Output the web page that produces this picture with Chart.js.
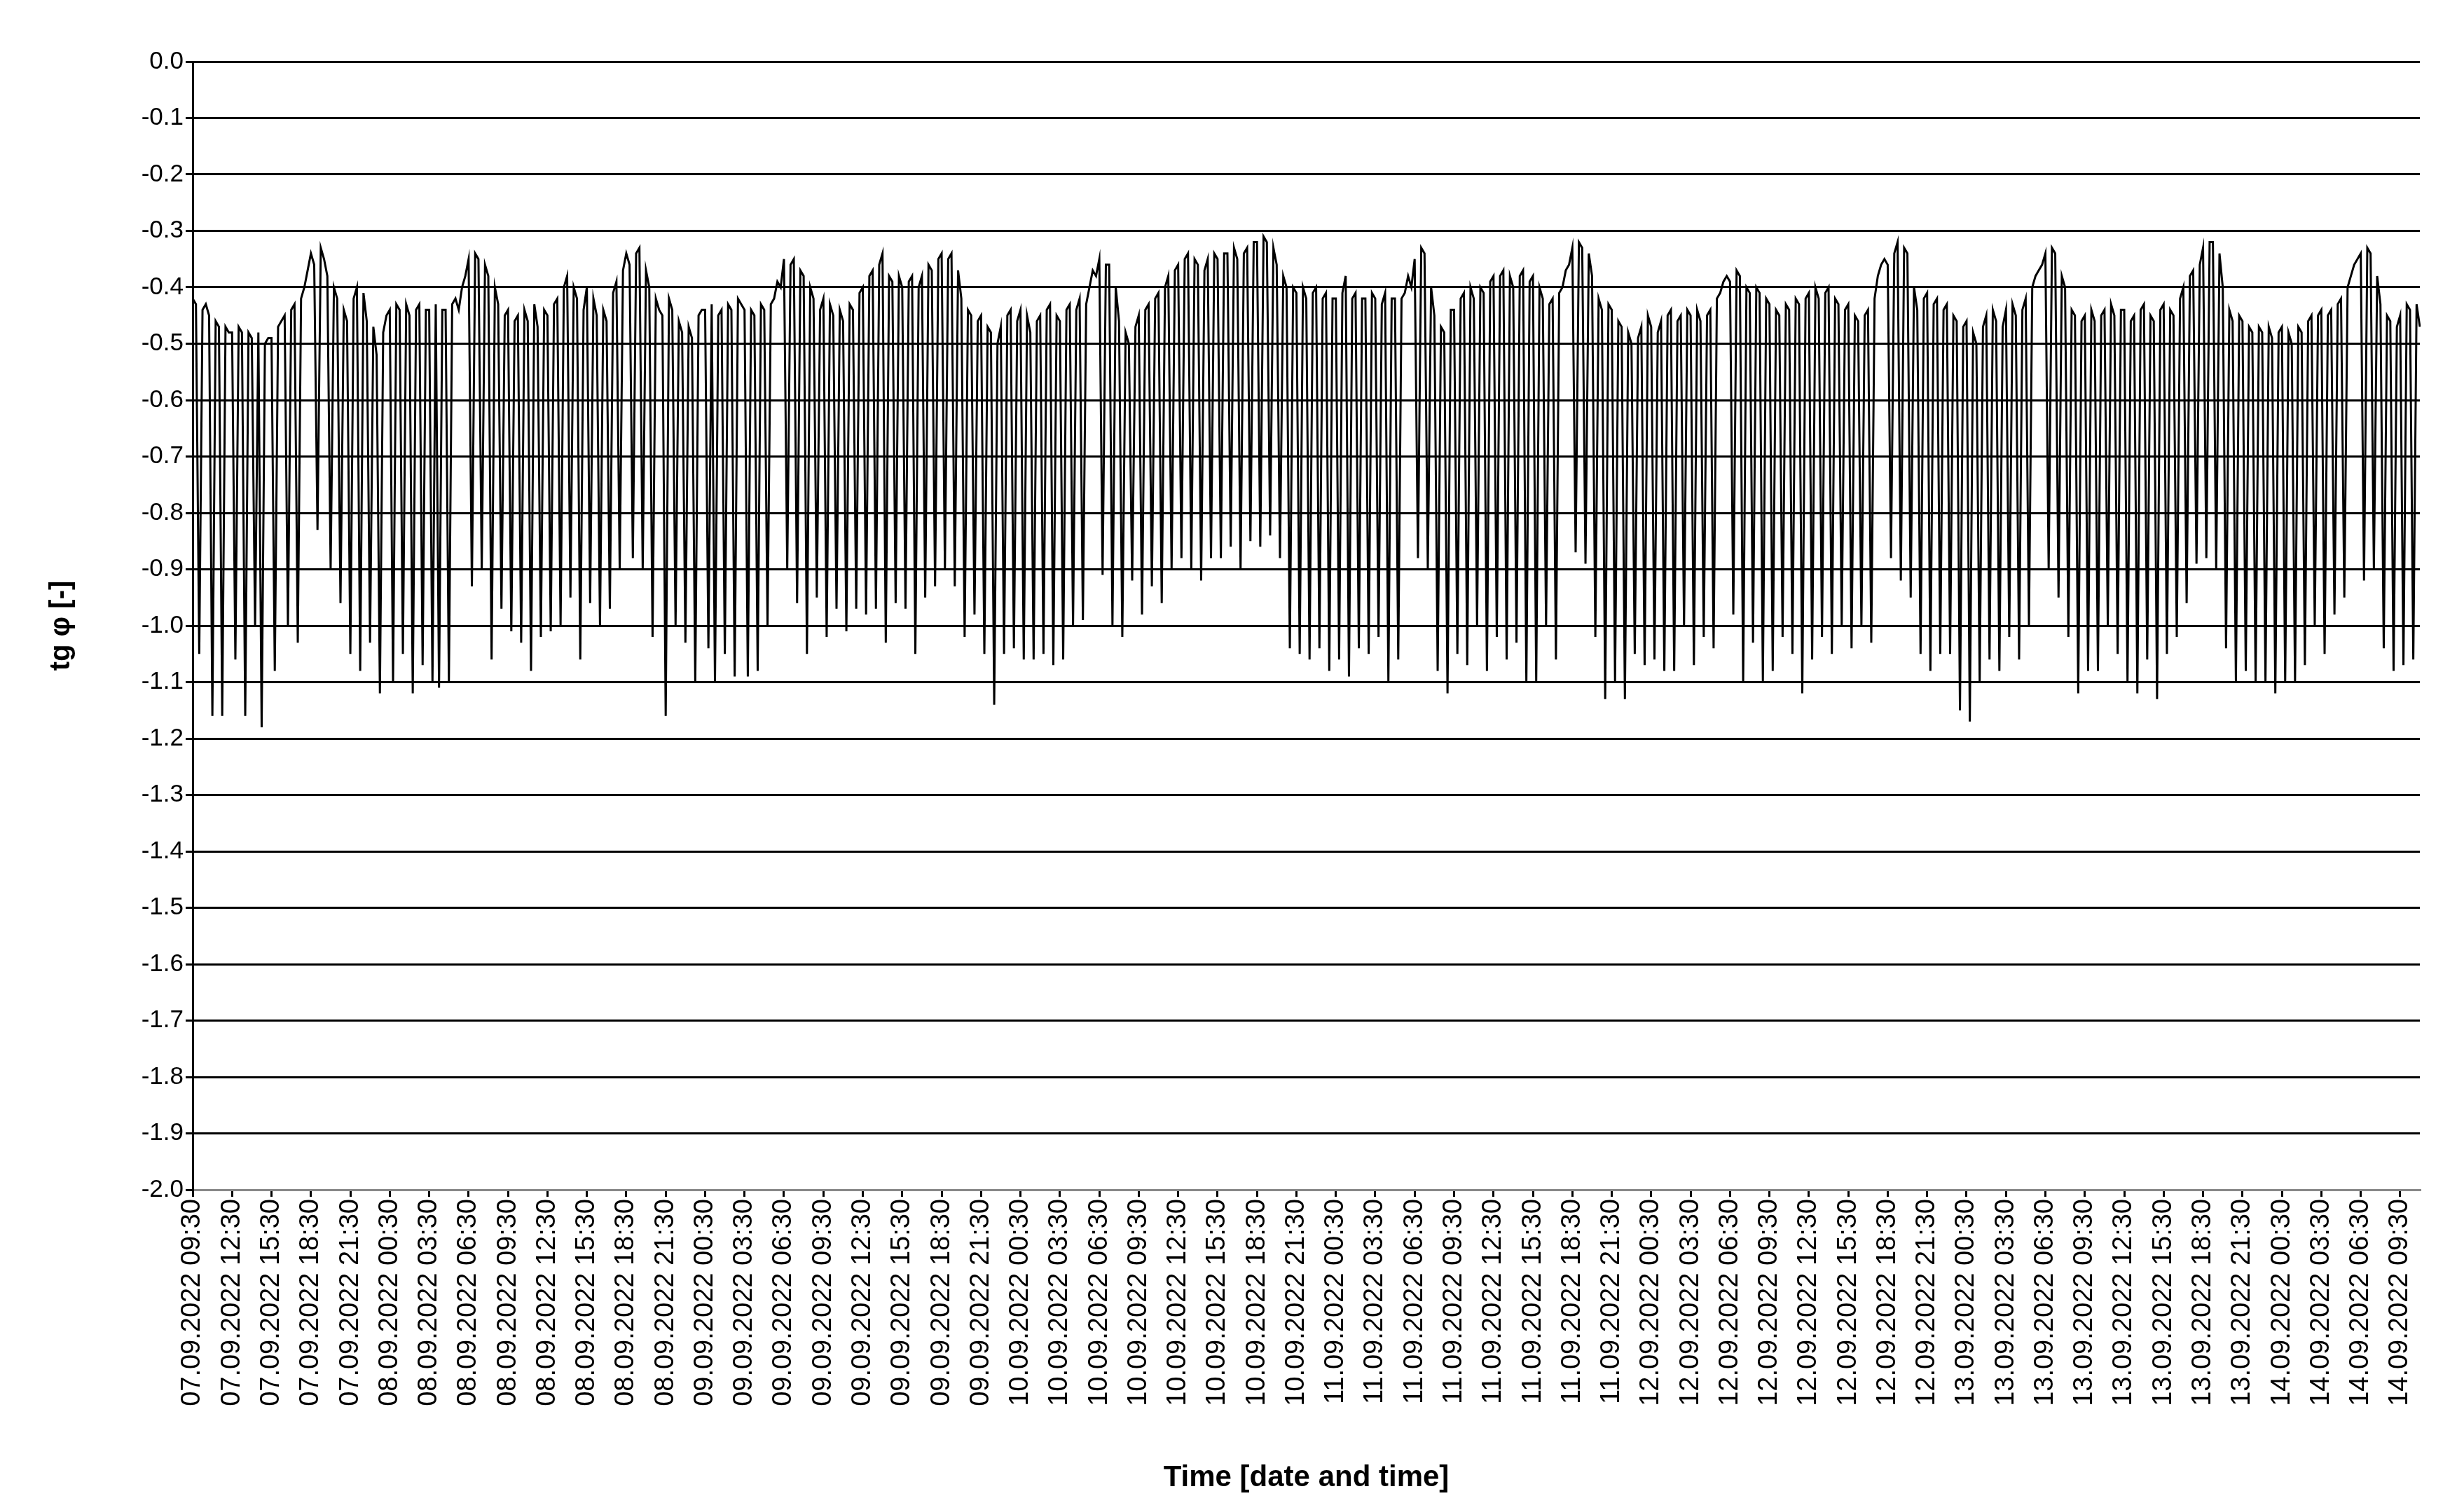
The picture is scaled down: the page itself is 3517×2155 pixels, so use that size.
<!DOCTYPE html>
<html lang="en">
  <head>
    <meta charset="UTF-8" />
    <title>tg phi</title>
    <script src="https://cdn.jsdelivr.net/npm/chart.js"></script>
    <style>
      body { margin: 0; background: #fff; }
    </style>
  </head>
  <body>
    <canvas id="tgChart" width="3517" height="2155"></canvas>
    <script>
      // first timestamp and sampling of the series (15 min)
      const startDay = 7
      const startMinutes = 9 * 60 + 30
      const stepMinutes = 15
      const labelEvery = 12 // one tick label every 3 hours

      // tg phi readings, one row per 3 hours
      const tgValues = [
        -.42,-.43,-1.05,-.44,-.43,-.45,-1.16,-.46,-.47,-1.16,-.47,-.48,
        -.48,-1.06,-.47,-.48,-1.16,-.48,-.49,-1.0,-.48,-1.18,-.5,-.49,
        -.49,-1.08,-.47,-.46,-.45,-1.0,-.44,-.43,-1.03,-.42,-.4,-.37,
        -.34,-.36,-.83,-.33,-.35,-.38,-.9,-.4,-.42,-.96,-.44,-.46,
        -1.05,-.42,-.4,-1.08,-.41,-.46,-1.03,-.47,-.52,-1.12,-.48,-.45,
        -.44,-1.1,-.43,-.44,-1.05,-.43,-.45,-1.12,-.44,-.43,-1.07,-.44,
        -.44,-1.1,-.43,-1.11,-.44,-.44,-1.1,-.43,-.42,-.44,-.4,-.38,
        -.35,-.93,-.34,-.35,-.9,-.36,-.38,-1.06,-.4,-.43,-.97,-.45,
        -.44,-1.01,-.46,-.45,-1.03,-.44,-.46,-1.08,-.43,-.47,-1.02,-.44,
        -.45,-1.01,-.43,-.42,-1.0,-.4,-.38,-.95,-.4,-.42,-1.06,-.44,
        -.4,-.96,-.42,-.45,-1.0,-.44,-.46,-.97,-.41,-.39,-.9,-.37,
        -.34,-.36,-.88,-.34,-.33,-.9,-.37,-.4,-1.02,-.42,-.44,-.45,
        -1.16,-.42,-.44,-1.0,-.46,-.48,-1.03,-.47,-.49,-1.1,-.45,-.44,
        -.44,-1.04,-.43,-1.1,-.45,-.44,-1.05,-.43,-.44,-1.09,-.42,-.43,
        -.44,-1.09,-.44,-.45,-1.08,-.43,-.44,-1.0,-.43,-.42,-.39,-.4,
        -.35,-.9,-.36,-.35,-.96,-.37,-.38,-1.05,-.4,-.42,-.95,-.44,
        -.42,-1.02,-.43,-.45,-.97,-.44,-.46,-1.01,-.43,-.44,-.97,-.41,
        -.4,-.98,-.38,-.37,-.97,-.36,-.34,-1.03,-.38,-.39,-.96,-.38,
        -.4,-.97,-.39,-.38,-1.05,-.4,-.38,-.95,-.36,-.37,-.93,-.35,
        -.34,-.9,-.35,-.34,-.93,-.37,-.42,-1.02,-.44,-.45,-.98,-.46,
        -.45,-1.05,-.47,-.48,-1.14,-.5,-.47,-1.05,-.45,-.44,-1.04,-.46,
        -.44,-1.06,-.45,-.48,-1.06,-.46,-.45,-1.05,-.44,-.43,-1.07,-.45,
        -.46,-1.06,-.44,-.43,-1.0,-.44,-.42,-.99,-.43,-.4,-.37,-.38,
        -.35,-.91,-.36,-.36,-1.0,-.4,-.46,-1.02,-.48,-.5,-.92,-.47,
        -.45,-.98,-.44,-.43,-.93,-.42,-.41,-.96,-.4,-.38,-.9,-.37,
        -.36,-.88,-.35,-.34,-.9,-.35,-.36,-.92,-.37,-.35,-.88,-.34,
        -.35,-.88,-.34,-.34,-.86,-.33,-.35,-.9,-.34,-.33,-.85,-.32,
        -.32,-.86,-.31,-.32,-.84,-.33,-.36,-.88,-.38,-.4,-1.04,-.4,
        -.41,-1.05,-.4,-.42,-1.06,-.41,-.4,-1.04,-.42,-.41,-1.08,-.42,
        -.42,-1.06,-.41,-.38,-1.09,-.42,-.41,-1.04,-.42,-.42,-1.05,-.41,
        -.42,-1.02,-.43,-.41,-1.1,-.42,-.42,-1.06,-.42,-.41,-.38,-.4,
        -.35,-.88,-.33,-.34,-.9,-.4,-.45,-1.08,-.47,-.48,-1.12,-.44,
        -.44,-1.05,-.42,-.41,-1.07,-.4,-.42,-1.0,-.4,-.41,-1.08,-.39,
        -.38,-1.02,-.38,-.37,-1.06,-.38,-.4,-1.03,-.38,-.37,-1.1,-.39,
        -.38,-1.1,-.4,-.42,-1.0,-.43,-.42,-1.06,-.41,-.4,-.37,-.36,
        -.33,-.87,-.32,-.33,-.89,-.34,-.38,-1.02,-.42,-.44,-1.13,-.43,
        -.44,-1.1,-.46,-.47,-1.13,-.48,-.5,-1.05,-.49,-.47,-1.07,-.45,
        -.47,-1.06,-.48,-.46,-1.08,-.45,-.44,-1.08,-.46,-.45,-1.0,-.44,
        -.45,-1.07,-.44,-.46,-1.02,-.45,-.44,-1.04,-.42,-.41,-.39,-.38,
        -.39,-.98,-.37,-.38,-1.1,-.4,-.41,-1.03,-.4,-.41,-1.1,-.42,
        -.43,-1.08,-.44,-.45,-1.02,-.43,-.44,-1.05,-.42,-.43,-1.12,-.42,
        -.41,-1.06,-.4,-.42,-1.02,-.41,-.4,-1.05,-.42,-.43,-1.0,-.44,
        -.43,-1.04,-.45,-.46,-1.0,-.45,-.44,-1.03,-.42,-.38,-.36,-.35,
        -.36,-.88,-.34,-.32,-.92,-.33,-.34,-.95,-.4,-.44,-1.05,-.42,
        -.41,-1.08,-.43,-.42,-1.05,-.44,-.43,-1.05,-.45,-.46,-1.15,-.47,
        -.46,-1.17,-.48,-.5,-1.1,-.47,-.45,-1.06,-.44,-.46,-1.08,-.47,
        -.44,-1.02,-.43,-.45,-1.06,-.44,-.42,-1.0,-.4,-.38,-.37,-.36,
        -.34,-.9,-.33,-.34,-.95,-.38,-.4,-1.02,-.44,-.45,-1.12,-.46,
        -.45,-1.08,-.44,-.46,-1.08,-.45,-.44,-1.0,-.43,-.45,-1.05,-.44,
        -.44,-1.1,-.46,-.45,-1.12,-.44,-.43,-1.06,-.45,-.46,-1.13,-.44,
        -.43,-1.05,-.44,-.45,-1.02,-.42,-.4,-.96,-.38,-.37,-.89,-.36,
        -.33,-.88,-.32,-.32,-.9,-.34,-.4,-1.04,-.44,-.46,-1.1,-.45,
        -.46,-1.08,-.47,-.48,-1.1,-.47,-.48,-1.1,-.47,-.49,-1.12,-.48,
        -.47,-1.1,-.48,-.5,-1.1,-.47,-.48,-1.07,-.46,-.45,-1.0,-.45,
        -.44,-1.05,-.45,-.44,-.98,-.43,-.42,-.95,-.4,-.38,-.36,-.35,
        -.34,-.92,-.33,-.34,-.9,-.38,-.43,-1.04,-.45,-.46,-1.08,-.47,
        -.45,-1.07,-.43,-.44,-1.06,-.43,-.47
      ]

      const pad = n => String(n).padStart(2, '0')

      // timestamp labels, e.g. "07.09.2022 09:30"
      const timeLabels = tgValues.map((v, i) => {
        const total = startMinutes + i * stepMinutes
        const day = startDay + Math.floor(total / 1440)
        const m = total % 1440
        return pad(day) + '.09.2022 ' + pad(Math.floor(m / 60)) + ':' + pad(m % 60)
      })

      const font = 'Arial, "Liberation Sans", sans-serif'

      new Chart(document.getElementById('tgChart'), {
        type: 'line',
        data: {
          labels: timeLabels,
          datasets: [
            {
              data: tgValues,
              borderColor: '#000',
              borderWidth: 3,
              pointRadius: 0,
              tension: 0
            }
          ]
        },
        options: {
          responsive: false,
          animation: false,
          layout: { padding: { top: 88, right: 63, left: 60, bottom: 20 } },
          plugins: { legend: { display: false }, tooltip: { enabled: false } },
          scales: {
            x: {
              offset: false,
              afterFit: scale => { scale.height = 437 },
              border: { color: '#888', width: 3 },
              grid: {
                drawOnChartArea: false,
                tickLength: 10,
                lineWidth: 3,
                color: ctx => (ctx.index % labelEvery === 0 ? '#000' : 'rgba(0,0,0,0)')
              },
              ticks: {
                autoSkip: false,
                maxRotation: 90,
                minRotation: 90,
                color: '#000',
                font: { family: font, size: 38 },
                callback: (v, i) => (i % labelEvery === 0 ? timeLabels[i] : '')
              },
              title: {
                display: true,
                text: 'Time [date and time]',
                color: '#000',
                font: { family: font, size: 42, weight: 'bold' },
                padding: { top: 40, bottom: 0 }
              }
            },
            y: {
              min: -2,
              max: 0,
              afterFit: scale => { scale.width = 215 },
              border: { color: '#000', width: 3 },
              grid: { color: '#000', lineWidth: 3, tickLength: 10 },
              ticks: {
                stepSize: 0.1,
                color: '#000',
                font: { family: font, size: 35 },
                callback: v => v.toFixed(1)
              },
              title: {
                display: true,
                text: 'tg φ [-]',
                color: '#000',
                font: { family: font, size: 40, weight: 'bold' },
                padding: { bottom: 20 }
              }
            }
          }
        }
      })
    </script>
  </body>
</html>
